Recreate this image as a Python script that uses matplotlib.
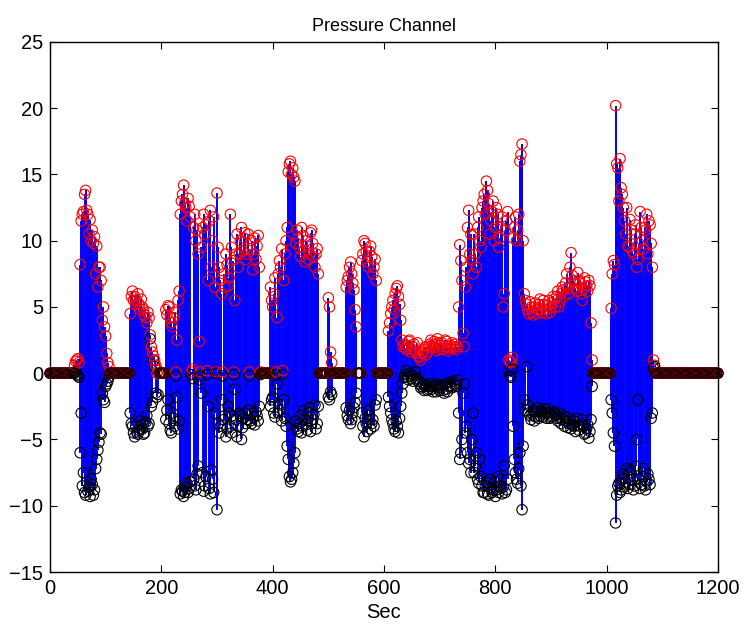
import numpy as np
import matplotlib
matplotlib.use("Agg")
import matplotlib.pyplot as plt

# ---- data: sample second, positive peak, negative peak ----
sec_active = [
    44, 48, 52, 56, 60, 64, 68, 72, 76, 80, 84, 88, 92, 96, 100, 104,
    144, 148, 152, 156, 160, 164, 168, 172, 176, 180, 184, 188, 192,
    208, 212, 216, 220, 224, 228, 232, 236, 240, 244, 248, 252, 256, 260, 264, 268,
    272, 276, 280, 284, 288, 292, 296, 300, 304, 308, 312, 316, 320, 324, 328, 332,
    336, 340, 344, 348, 352, 356, 360, 364, 368, 372, 376,
    396, 400, 404, 408, 412, 416, 420, 424, 428, 432, 436, 440, 444, 448, 452, 456,
    460, 464, 468, 472, 476, 480,
    500, 504,
    532, 536, 540, 544, 548,
    560, 564, 568, 572, 576, 580, 584,
    608, 612, 616, 620, 624, 628, 632,
    636, 640, 644, 648, 652, 656, 660, 664, 668, 672, 676, 680, 684, 688, 692, 696,
    700, 704, 708, 712, 716, 720, 724, 728, 732,
    736, 740, 744, 748, 752, 756, 760, 764, 768, 772, 776, 780, 784, 788, 792, 796,
    800, 804, 808, 812, 816, 820, 824, 828, 832, 836, 840, 844, 848, 852, 856, 860,
    864, 868, 872, 876, 880, 884, 888, 892, 896, 900, 904, 908, 912, 916, 920, 924,
    928, 932, 936, 940, 944, 948, 952, 956, 960, 964, 968, 972,
    1008, 1012, 1016, 1020, 1024, 1028, 1032, 1036, 1040, 1044, 1048, 1052, 1056,
    1060, 1064, 1068, 1072, 1076, 1080, 1084,
]

peak_pos = [
    0.6, 1.0, 0.8, 11.5, 12.2, 13.8, 12.0, 11.6, 10.8, 10.3, 9.6, 8.0, 7.0, 5.0, 2.8, 0.8,
    4.5, 6.2, 5.8, 5.5, 5.2, 5.6, 4.8, 4.2, 4.6, 2.9, 1.6, 1.0, 0.0,
    4.8, 5.1, 4.2, 3.5, 4.6, 2.5, 6.2, 13.0, 14.2, 12.5, 13.2, 11.8, 0.3, 12.0, 10.8, 2.4,
    9.5, 12.0, 11.2, 7.0, 12.3, 10.0, 6.5, 13.6, 8.0, 6.0, 7.5, 9.0, 6.6, 12.0, 8.5, 5.5,
    10.5, 9.0, 11.0, 10.2, 8.6, 10.5, 9.4, 7.8, 10.2, 9.6, 8.0,
    6.5, 5.0, 7.2, 4.2, 8.5, 9.4, 7.0, 10.0, 15.2, 16.0, 15.5, 14.5, 10.8, 9.5, 11.0, 9.2,
    10.0, 8.6, 10.6, 9.8, 8.0, 9.4,
    5.7, 1.6,
    6.5, 7.3, 8.4, 6.8, 4.8,
    8.5, 10.0, 9.2, 8.0, 9.6, 7.5, 8.6,
    3.2, 4.5, 5.5, 6.0, 6.6, 5.2, 2.5,
    2.2, 1.8, 2.4, 1.6, 2.0, 1.7, 2.3, 1.2, 1.5, 1.8, 1.4, 2.0, 2.5, 1.9, 2.2, 2.6,
    1.8, 2.3, 2.0, 2.4, 1.7, 2.1, 1.9, 2.2, 2.0,
    9.7, 7.0, 2.0, 8.0, 12.3, 10.5, 7.5, 9.0, 11.0, 10.0, 12.5, 13.5, 14.5, 12.8, 11.5, 13.0,
    11.0, 12.0, 10.2, 11.8, 6.0, 11.5, 1.0, 0.8, 10.2, 11.8, 10.8, 16.0, 17.3, 6.0, 5.2, 4.5,
    5.0, 4.4, 5.3, 4.8, 5.6, 4.6, 5.2, 4.5, 5.5, 4.9, 5.8, 5.0, 6.2, 5.4, 6.5, 5.8,
    7.5, 6.0, 9.1, 7.0, 6.4, 7.6, 6.8, 5.5, 7.2, 6.6, 7.0, 3.8,
    4.9, 8.5, 20.2, 15.5, 16.2, 13.5, 11.5, 12.5, 9.5, 10.8, 9.0, 11.2, 8.6,
    12.2, 10.0, 11.0, 12.0, 11.5, 9.8, 1.0,
]

peak_neg = [
    0.0, -0.1, -0.3, -3.0, -7.5, -9.2, -8.9, -9.3, -8.4, -8.8, -6.5, -5.2, -4.6, -2.0, -1.0, -0.6,
    -3.0, -4.0, -4.8, -4.5, -4.3, -3.9, -4.6, -3.7, -4.0, 2.6, -2.2, 0.5, -1.8,
    -3.5, -2.0, -4.3, -3.0, -4.0, -1.8, -3.6, -8.8, -9.3, -8.6, -9.0, -8.2, -0.4, -8.5, -7.6, -0.5,
    -1.5, -8.9, -7.8, -2.5, -9.1, -8.0, -3.0, -10.3, -4.5, -2.0, -3.5, -4.8, -2.5, -4.0, -3.2, -1.2,
    -4.8, -3.0, -5.0, -3.4, -3.8, -2.8, -3.6, -3.0, -3.9, -3.2, -2.5,
    -2.5, -1.8, -3.3, -0.8, -2.8, -3.6, -2.0, -4.0, -6.5, -8.2, -7.5, -6.0, -4.2, -3.8, -4.5, -2.8,
    -3.9, -3.0, -4.4, -3.5, -2.4, -3.8,
    -1.8, -1.4,
    -2.6, -3.5, -3.8, -3.0, -2.2,
    -3.0, -4.8, -3.8, -2.8, -4.2, -3.5, -2.4,
    -1.8, -3.0, -3.8, -4.4, -4.0, -3.4, -1.5,
    -0.3, 0.2, -0.5, -0.2, -0.6, 0.1, -0.4, -0.8, -1.0, -1.3, -0.9, -1.2, -1.0, -1.4, -0.8, -1.1,
    -1.3, -0.9, -1.5, -1.2, -0.7, -1.0, -0.6, -0.9, -0.5,
    -6.5, -5.0, -0.8, -4.0, -6.8, -7.5, -3.0, -7.0, -8.0, -6.5, -8.5, -9.0, -8.2, -9.2, -8.6, -8.8,
    -9.3, -7.8, -8.5, -9.1, -7.0, -8.8, 0.2, -0.3, -4.0, -7.5, -8.3, -6.0, -10.3, -2.0, 0.5, -3.0,
    -3.5, -2.8, -3.3, -2.6, -3.2, -3.0, -2.7, -3.4, -3.0, -3.3, -2.9, -3.1, -3.6, -3.0, -3.5, -4.0,
    -3.3, -3.8, -4.2, -3.6, -4.4, -3.9, -4.0, -3.5, -4.6, -4.2, -4.9, -3.5,
    -2.0, -4.5, -11.3, -8.5, -9.0, -8.0, -8.6, -7.2, -8.4, -7.5, -8.8, -7.0, -2.0,
    -8.7, -7.8, -8.5, -8.2, -8.0, -3.4, 0.4,
]

# readings for the samples lying 2 s after each of the above
peak_pos_mid = [
    0.9, 1.1, 8.2, 12.0, 13.5, 12.3, 10.5, 10.0, 9.8, 7.5, 6.5, 8.0, 4.0, 3.5, 1.5, 0.5,
    5.8, 5.5, 5.2, 6.0, 4.8, 5.0, 4.4, 3.8, 4.2, 2.0, 1.3, 0.6, 0.2,
    4.4, 5.0, 3.8, 4.2, 0.1, 5.5, 12.0, 13.5, 12.8, 11.5, 12.6, 0.1, 11.0, 10.0, 9.0, 0.1,
    11.0, 10.5, 0.2, 11.5, 8.0, 11.8, 0.1, 9.5, 7.0, 0.1, 6.5, 8.2, 7.2, 9.5, 0.1, 9.0,
    8.0, 10.0, 9.2, 10.6, 9.0, 0.1, 10.0, 9.0, 8.6, 10.4, 0.1,
    5.5, 6.0, 0.1, 7.5, 8.0, 0.2, 9.0, 11.0, 15.8, 15.0, 14.8, 9.8, 10.2, 8.8, 10.4, 8.4,
    9.6, 9.0, 10.8, 8.8, 9.0, 7.5,
    5.0, 0.8,
    7.0, 8.0, 7.5, 6.3, 3.5,
    9.0, 9.8, 8.4, 9.2, 8.8, 8.0, 7.0,
    3.8, 5.0, 4.8, 6.4, 5.8, 4.0, 2.0,
    1.9, 2.1, 2.5, 1.8, 2.2, 1.5, 1.3, 1.0, 1.6, 2.0, 1.6, 2.2, 2.0, 2.4, 1.7, 2.3,
    2.1, 1.8, 2.5, 2.0, 1.9, 2.3, 2.0, 1.8, 5.0,
    8.5, 3.0, 6.5, 11.0, 9.0, 8.5, 10.5, 8.0, 11.8, 9.5, 13.0, 12.0, 13.8, 10.5, 12.2, 10.0,
    12.5, 9.5, 11.0, 5.0, 10.8, 12.2, 0.9, 1.2, 11.0, 10.0, 12.0, 16.5, 10.0, 5.5, 4.8, 5.4,
    4.6, 5.0, 4.5, 5.2, 4.8, 5.5, 4.8, 5.1, 4.6, 5.3, 5.6, 5.8, 5.0, 6.0, 6.3, 6.8,
    6.4, 8.0, 7.4, 6.8, 6.2, 7.0, 6.0, 6.4, 6.9, 6.2, 6.6, 1.0,
    7.5, 8.2, 15.8, 13.0, 14.0, 12.5, 10.5, 9.6, 11.6, 9.2, 10.5, 8.0, 9.8,
    11.0, 9.4, 10.8, 9.0, 11.2, 8.0, 0.6,
]

peak_neg_mid = [
    0.1, -0.2, -6.0, -8.5, -9.0, -8.2, -8.6, -8.0, -9.2, -7.2, -5.8, -4.5, -1.5, -2.2, -0.8, -0.3,
    -3.8, -4.5, -4.0, -4.6, -3.6, -4.2, -4.5, -3.2, -3.8, -2.5, 1.0, -1.5, -1.6,
    -2.8, -3.8, -4.5, -3.4, -0.2, -4.2, -9.1, -8.9, -9.0, -8.3, -8.7, -0.1, -8.0, -8.8, -7.0, -0.2,
    -7.5, -8.5, -0.1, -8.7, -7.3, -9.0, 0.0, -3.8, -4.0, -0.2, -3.2, -4.2, -3.0, -4.5, -0.1, -3.5,
    -4.0, -3.2, -4.1, -3.0, -3.5, -0.2, -3.8, -3.3, -2.9, -3.6, -0.1,
    -2.0, -3.0, -0.1, -3.0, -2.4, -0.1, -3.4, -5.5, -7.8, -8.0, -6.8, -3.6, -4.4, -3.2, -4.0, -3.5,
    -4.3, -2.6, -3.8, -3.1, -4.2, -2.5,
    -2.0, -1.6,
    -3.2, -2.8, -3.5, -2.6, -1.5,
    -4.0, -3.4, -4.4, -3.2, -3.8, -4.0, -2.0,
    -2.5, -3.5, -4.2, -3.6, -4.5, -2.5, -0.8,
    -0.1, -0.3, 0.0, -0.4, -0.2, -0.5, -0.6, -1.1, -0.8, -1.0, -1.3, -0.8, -1.2, -1.0, -1.4, -0.9,
    -1.1, -1.3, -0.8, -1.4, -0.9, -1.1, -0.8, -1.0, -3.0,
    -6.0, -1.5, -4.5, -6.0, -6.5, -5.0, -7.5, -6.0, -8.3, -7.8, -9.0, -8.5, -9.1, -8.0, -9.0, -8.2,
    -8.8, -9.0, -8.0, -8.6, -9.0, -8.0, -0.2, 0.3, -6.5, -8.0, -7.2, -8.5, -5.5, -2.8, -2.4, -3.2,
    -3.0, -3.6, -2.9, -3.4, -2.8, -3.3, -3.0, -2.7, -3.4, -3.2, -3.0, -3.4, -3.3, -3.8, -3.2, -3.6,
    -4.1, -3.5, -3.9, -4.0, -3.4, -4.3, -3.8, -4.0, -4.5, -3.9, -4.4, -1.0,
    -3.0, -5.5, -9.2, -8.3, -8.8, -7.6, -8.2, -8.7, -7.3, -8.0, -8.5, -5.0, -8.0,
    -8.4, -7.2, -8.8, -7.6, -8.4, -3.0, 0.5,
]

assert len(sec_active) == len(peak_pos) == len(peak_neg) == len(peak_pos_mid) == len(peak_neg_mid)

x_ticks = [0, 200, 400, 600, 800, 1000, 1200]
y_ticks = [-15, -10, -5, 0, 5, 10, 15, 20, 25]

# sampling grid (every 2 s); quiet samples sit on 0
sec = np.arange(0, 1201, 2)
pos = np.zeros(len(sec))
neg = np.zeros(len(sec))
idx = np.searchsorted(sec, sec_active)
pos[idx] = peak_pos
neg[idx] = peak_neg
idx_mid = np.searchsorted(sec, np.asarray(sec_active) + 2)
pos[idx_mid] = peak_pos_mid
neg[idx_mid] = peak_neg_mid

plt.rcParams['font.family'] = ['Liberation Sans', 'DejaVu Sans']

fig = plt.figure(figsize=(7.44, 6.27), dpi=100)
ax = fig.add_axes([50/744, 1 - 572/627, 668/744, 530/627])

ax.vlines(sec, neg, pos, color='#0000ff', lw=1.4, zorder=1)

# interleave red (positive) and black (negative) circles sample by sample
xs = np.column_stack([sec, sec]).ravel()
ys = np.column_stack([pos, neg]).ravel()
cols = np.tile([[1, 0, 0, 1], [0, 0, 0, 1]], (len(sec), 1))
ax.scatter(xs, ys, s=56, facecolors='none', edgecolors=cols, linewidths=0.8,
           zorder=2, clip_on=False)

ax.set_xlim(0, 1200)
ax.set_ylim(-15, 25)
ax.set_xticks(x_ticks)
ax.set_yticks(y_ticks)
ax.tick_params(direction='in', top=True, right=True, length=5, width=0.8,
               labelsize=14.5, pad=5)
for s in ax.spines.values():
    s.set_linewidth(1.0)

ax.set_title('Pressure Channel', fontsize=13, pad=8)
ax.set_xlabel('Sec', fontsize=14.5, labelpad=4)

fig.savefig('out.png', dpi=100)
